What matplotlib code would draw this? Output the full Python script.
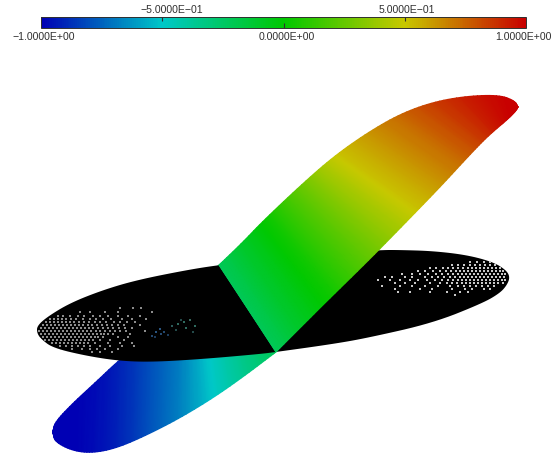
#!/usr/bin/env python3
"""
Contour render of a twisted wing crossing a flat disc, with a value bar on top.
Outlines and dots are read off the picture, in pixel coordinates.
"""

import numpy as np
import matplotlib
matplotlib.use('Agg')
import matplotlib.pyplot as plt
from matplotlib.colors import LinearSegmentedColormap, Normalize
from matplotlib.cm import ScalarMappable

plt.rcParams['font.family'] = 'Liberation Sans'

# colour bar
bar_stops = [0.0, 0.25, 0.5, 0.75, 1.0]
bar_colors = ['#0000b4', '#00c8c8', '#00c800', '#c8c800', '#c80000']
top_ticks = [-0.5, 0.5]
top_label_x = [-0.46, 0.507]
top_labels = ['\u22125.0000E\u221201', '5.0000E\u221201']
bottom_ticks = [-1.0, 0.0, 1.0]
bottom_label_x = [-0.99, 0.012, 0.99]
bottom_labels = ['\u22121.0000E+00', '0.0000E+00', '1.0000E+00']

# upper part of the wing: pairs across the span, with value
up_top_x = [219, 243, 262, 300, 333, 367, 400, 433, 467, 500, 515, 518]
up_top_y = [265, 242, 222, 186, 157, 133, 114, 102, 96, 95, 101, 107]
up_bot_x = [276, 300, 325, 372, 415, 442, 465, 483, 495, 507, 516, 518]
up_bot_y = [352, 328, 303, 257, 213, 185, 160, 141, 130, 120, 111, 107]
up_vals = [-0.22, -0.1, 0.0, 0.25, 0.5, 0.62, 0.74, 0.85, 0.93, 0.99, 1.0, 1.0]

# lower part of the wing, top edge runs hidden under the disc
low_top_x = [53, 55, 73, 97, 118, 150, 185, 200, 219, 219]
low_top_y = [431, 422, 403, 381, 361, 335, 300, 285, 265, 265]
low_bot_x = [53, 55, 73, 93, 117, 147, 180, 213, 243, 276]
low_bot_y = [433, 442, 451, 453, 448, 435, 418, 398, 377, 352]
low_vals = [-1.0, -1.0, -1.0, -0.97, -0.92, -0.8, -0.68, -0.5, -0.36, -0.22]

# disc outline, starts and ends on the hidden top edge
disc_x = [300, 219, 187, 137, 103, 70, 47, 37, 37, 41, 53, 87, 120, 153, 203, 260, 276, 333, 367, 433,
          483, 500, 507, 510, 506, 493, 467, 433, 400, 380, 300]
disc_y = [255, 265, 270, 280, 290, 303, 317, 326, 333, 339, 348, 356, 361, 362, 359, 354, 352, 344, 338, 323,
          303, 293, 285, 277, 270, 262, 255, 251, 250, 250, 255]

# gaps in the disc mesh: y row -> x positions
left_rows = {
    308: [120, 133, 141],
    312: [80, 90, 105, 118, 152],
    316: [58, 63, 70, 78, 84, 93, 100, 108, 118, 128, 140],
    319: [50, 54, 58, 62, 66, 71, 76, 83, 90, 96, 103, 111, 122, 132, 146],
    322: [46, 50, 54, 58, 62, 66, 70, 74, 79, 84, 89, 95, 100, 106, 114, 120, 127, 135],
    325: [43, 47, 51, 55, 59, 63, 67, 71, 75, 79, 83, 88, 92, 97, 102, 107, 112, 118, 124, 140],
    328: [41, 45, 49, 53, 57, 61, 65, 69, 73, 77, 81, 85, 89, 93, 98, 103, 108, 113, 119, 125, 132],
    331: [39, 43, 47, 51, 55, 59, 63, 67, 71, 75, 79, 83, 87, 91, 96, 100, 105, 110, 115, 120, 126, 145],
    334: [41, 45, 49, 53, 57, 61, 65, 69, 73, 77, 81, 85, 89, 93, 97, 101, 104, 108, 113, 130],
    337: [43, 47, 51, 55, 59, 63, 67, 71, 75, 79, 83, 87, 91, 95, 98, 103, 118, 128],
    340: [45, 49, 53, 57, 61, 65, 69, 73, 77, 81, 85, 89, 93, 100, 110, 124],
    343: [52, 56, 60, 64, 68, 72, 76, 80, 84, 88, 95, 108, 120, 132],
    346: [60, 66, 72, 78, 84, 90, 100, 110, 122, 134],
    349: [72, 82, 90, 97, 105, 118],
    352: [92, 100, 112],
}
dim_x = [152, 156, 160, 164, 168, 155, 161, 172, 178, 184, 190, 195, 176, 186, 193, 181]
dim_y = [336, 332, 329, 332, 335, 337, 334, 326, 324, 322, 320, 326, 330, 328, 332, 320]
dim_colors = ['#24486e', '#2a5580', '#2a5580', '#24486e', '#1c3a5a', '#1c3a5a', '#24486e', '#2c5a5a',
              '#2f6a5e', '#2f6a5e', '#386a60', '#2f6a5e', '#244a4a', '#2f6a5e', '#244a4a', '#244a4a']

right_rows = {
    262: [470, 477, 484, 490],
    265: [452, 458, 464, 470, 475, 480, 485, 490, 495],
    268: [430, 436, 443, 448, 453, 458, 463, 468, 472, 476, 480, 484, 488, 492, 496, 500],
    271: [418, 425, 433, 440, 446, 451, 456, 460, 464, 468, 472, 476, 480, 484, 488, 492, 496, 500, 503],
    274: [402, 412, 420, 428, 436, 442, 448, 453, 458, 462, 466, 470, 474, 478, 482, 486, 490, 494, 498, 502, 505],
    277: [385, 392, 405, 412, 425, 432, 438, 444, 450, 455, 460, 464, 468, 472, 476, 480, 484, 488, 492, 496, 500, 504],
    280: [378, 390, 400, 410, 418, 427, 435, 442, 448, 453, 458, 462, 466, 470, 474, 478, 482, 486, 490, 494, 498, 502, 505],
    283: [395, 405, 415, 430, 440, 447, 452, 457, 462, 466, 470, 474, 478, 482, 486, 490, 494, 498, 503],
    286: [382, 400, 412, 425, 438, 450, 458, 464, 470, 476, 482, 488, 494],
    289: [395, 420, 432, 452, 465, 472, 484, 490],
    292: [398, 410, 430, 447, 460, 468],
    295: [455],
}

cmap = LinearSegmentedColormap.from_list('bar', list(zip(bar_stops, bar_colors)))
norm = Normalize(-1, 1)


def corner_cut(values, passes=3):
    # rounds off a polyline, first and last point stay put
    v = np.asarray(values, dtype=float)
    for _ in range(passes):
        q = 0.75 * v[:-1] + 0.25 * v[1:]
        r = 0.25 * v[:-1] + 0.75 * v[1:]
        v = np.concatenate(([v[0]], np.column_stack((q, r)).ravel(), [v[-1]]))
    return v


def wing_part(ax, top_x, top_y, bot_x, bot_y, vals, zorder):
    X = np.array([corner_cut(top_x), corner_cut(bot_x)])
    Y = np.array([corner_cut(top_y), corner_cut(bot_y)])
    c = corner_cut(vals)
    ax.pcolormesh(X, Y, np.array([c, c]), shading='gouraud', cmap=cmap, norm=norm, zorder=zorder)


def row_points(rows):
    xs, ys = [], []
    for y, row in rows.items():
        xs.extend(row)
        ys.extend([y] * len(row))
    return xs, ys


fig = plt.figure(figsize=(5.52, 4.57), dpi=100)
ax = fig.add_axes([0, 0, 1, 1])
ax.set_xlim(0, 552)
ax.set_ylim(457, 0)
ax.axis('off')

wing_part(ax, low_top_x, low_top_y, low_bot_x, low_bot_y, low_vals, 1)
ax.fill(corner_cut(disc_x), corner_cut(disc_y), color='black', lw=0, zorder=2)

lx, ly = row_points(left_rows)
ax.scatter(lx, ly, s=0.7, marker='s', color='#8c8c8c', linewidths=0, zorder=3)
ax.scatter(dim_x, dim_y, s=1.0, marker='s', color=dim_colors, linewidths=0, zorder=3)
rx, ry = row_points(right_rows)
ax.scatter(rx, ry, s=0.6, marker='s', color='#c8c8c8', linewidths=0, zorder=3)

wing_part(ax, up_top_x, up_top_y, up_bot_x, up_bot_y, up_vals, 4)

# value bar
cax = fig.add_axes([41 / 552, 1 - 28 / 457, 485 / 552, 11 / 457])
cb = fig.colorbar(ScalarMappable(norm=norm, cmap=cmap), cax=cax, orientation='horizontal')
cb.set_ticks([])
cb.outline.set_linewidth(0.7)
cb.outline.set_edgecolor('#303030')
cax.vlines(top_ticks, 0.6, 1, color='#303030', lw=0.8)
cax.vlines([0.0], 0, 0.5, color='#303030', lw=0.8)

for t, lab in zip(top_label_x, top_labels):
    cax.annotate(lab, xy=(t, 1), xycoords=('data', 'axes fraction'), xytext=(0, 1.5),
                 textcoords='offset points', ha='center', va='bottom', fontsize=7.6,
                 color='#303030', annotation_clip=False)
for t, lab in zip(bottom_label_x, bottom_labels):
    cax.annotate(lab, xy=(t, 0), xycoords=('data', 'axes fraction'), xytext=(0, -3),
                 textcoords='offset points', ha='center', va='top', fontsize=7.6,
                 color='#303030', annotation_clip=False)

plt.savefig('out.png', dpi=100)
plt.close()
